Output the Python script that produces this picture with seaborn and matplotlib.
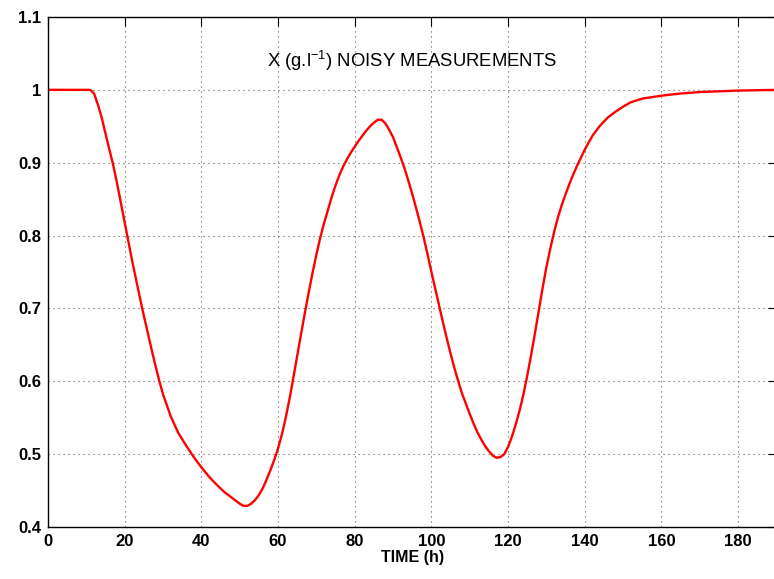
import matplotlib
matplotlib.use("Agg")
import matplotlib.pyplot as plt
import seaborn as sns
import pandas as pd

# Time (h) and biomass X (g/l)
time_h = [0, 5, 10, 11, 12, 13, 14, 15, 16, 17, 18, 19, 20, 21, 22, 23, 24, 25, 26, 27,
          28, 29, 30, 32, 34, 36, 38, 40, 42, 44, 46, 48, 50, 51, 52, 53, 54, 55, 56, 57,
          58, 59, 60, 61, 62, 63, 64, 65, 66, 67, 68, 69, 70, 71, 72, 73, 74, 75, 76, 77,
          78, 79, 80, 81, 82, 83, 84, 85, 86, 87, 88, 89, 90, 91, 92, 93, 94, 95, 96, 97,
          98, 99, 100, 101, 102, 103, 104, 105, 106, 107, 108, 109, 110, 111, 112, 113,
          114, 115, 116, 117, 118, 119, 120, 121, 122, 123, 124, 125, 126, 127, 128, 129,
          130, 131, 132, 133, 134, 135, 136, 137, 138, 139, 140, 142, 144, 146, 148, 150,
          152, 155, 160, 165, 170, 180, 190]
x_meas = [1.0, 1.0, 1.0, 1.0, 0.995, 0.980, 0.962, 0.940, 0.918, 0.897, 0.872, 0.845,
          0.818, 0.791, 0.764, 0.739, 0.714, 0.690, 0.667, 0.644, 0.622, 0.601, 0.582,
          0.552, 0.529, 0.512, 0.496, 0.482, 0.469, 0.458, 0.448, 0.440, 0.432, 0.429,
          0.429, 0.432, 0.437, 0.444, 0.453, 0.465, 0.478, 0.492, 0.508, 0.527, 0.550,
          0.576, 0.605, 0.635, 0.665, 0.694, 0.722, 0.749, 0.774, 0.797, 0.817, 0.835,
          0.853, 0.869, 0.883, 0.895, 0.905, 0.914, 0.922, 0.930, 0.937, 0.944, 0.950,
          0.955, 0.959, 0.959, 0.954, 0.945, 0.935, 0.921, 0.907, 0.892, 0.875, 0.857,
          0.838, 0.818, 0.797, 0.774, 0.750, 0.727, 0.704, 0.681, 0.659, 0.638, 0.618,
          0.600, 0.583, 0.569, 0.555, 0.542, 0.530, 0.520, 0.511, 0.504, 0.498, 0.495,
          0.496, 0.500, 0.510, 0.524, 0.541, 0.560, 0.582, 0.608, 0.636, 0.666, 0.697,
          0.728, 0.757, 0.782, 0.805, 0.825, 0.842, 0.857, 0.871, 0.884, 0.896, 0.907,
          0.918, 0.937, 0.951, 0.962, 0.970, 0.977, 0.983, 0.988, 0.992, 0.995, 0.997,
          0.999, 1.0]

x_ticks = [0, 20, 40, 60, 80, 100, 120, 140, 160, 180]
y_ticks = [0.4, 0.5, 0.6, 0.7, 0.8, 0.9, 1.0, 1.1]
y_tick_labels = ["0.4", "0.5", "0.6", "0.7", "0.8", "0.9", "1", "1.1"]

sns.set_style("white")
plt.rcParams["font.family"] = ["Liberation Sans", "DejaVu Sans"]
plt.rcParams["mathtext.fontset"] = "custom"
plt.rcParams["mathtext.rm"] = "Liberation Sans"
plt.rcParams["mathtext.it"] = "Liberation Sans"
plt.rcParams["text.color"] = "black"
plt.rcParams["axes.labelcolor"] = "black"

df = pd.DataFrame({"time": time_h, "X": x_meas})

fig = plt.figure(figsize=(7.74, 5.79), dpi=100)
ax = fig.add_axes([48 / 774, 52 / 579, (776.5 - 48) / 774, 510 / 579])

sns.lineplot(data=df, x="time", y="X", ax=ax, color="#ff0000", linewidth=1.7,
             estimator=None, sort=False)

ax.set_xlim(0, 190)
ax.set_ylim(0.4, 1.1)
ax.set_xticks(x_ticks)
ax.set_yticks(y_ticks)
ax.set_yticklabels(y_tick_labels)

ax.grid(True, color="0.35", linestyle=(0, (1, 3.5)), linewidth=0.8)
for s in ax.spines.values():
    s.set_visible(True)
    s.set_color("black")
    s.set_linewidth(1.0)

ax.tick_params(direction="in", length=6.5, width=0.8, top=True, right=True,
               labelsize=12, pad=5, colors="black")
for lab in ax.get_xticklabels() + ax.get_yticklabels():
    lab.set_fontweight("bold")

ax.set_xlabel("TIME (h)", fontsize=11.5, fontweight="bold", labelpad=1, color="black")
ax.set_ylabel("")

ax.text(95, 1.039, "X (g.l$^{-1}$) NOISY MEASUREMENTS", ha="center", va="center",
        fontsize=13.3, color="black")

fig.savefig("out.png", dpi=100)
